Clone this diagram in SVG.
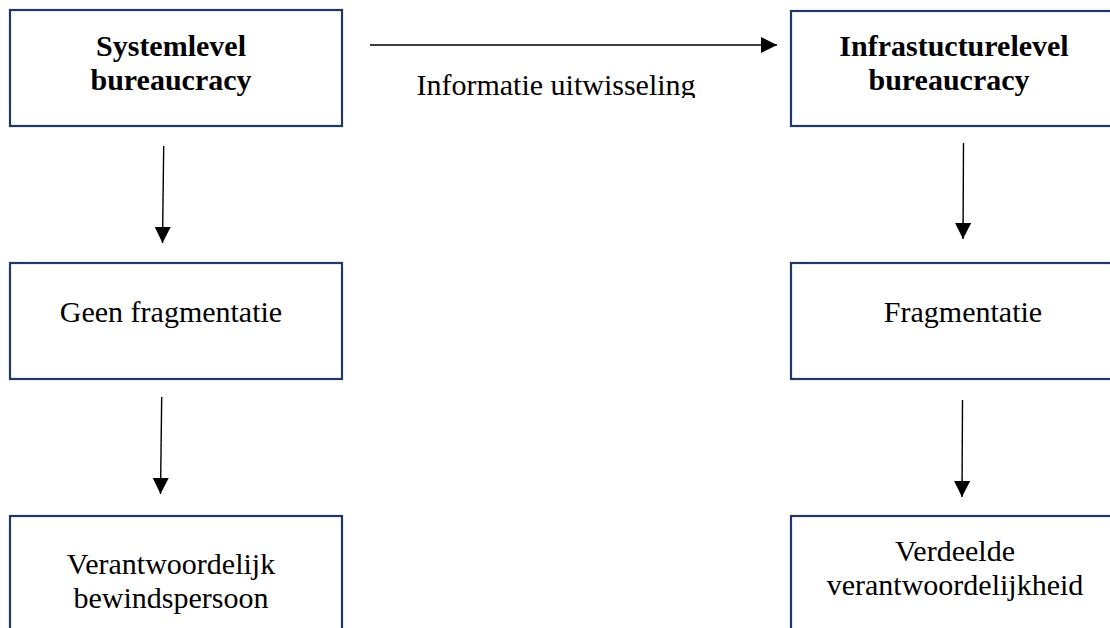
<svg xmlns="http://www.w3.org/2000/svg" width="1110" height="628" viewBox="0 0 1110 628">
<style>
.box{fill:#fff;stroke:#1f3864;stroke-width:2.2}
.t{font-family:"Liberation Serif","Times New Roman",serif;font-size:30px;fill:#000;text-anchor:middle}
.b{font-weight:bold}
.c{stroke:#000;stroke-width:1.4;fill:none}
</style>
<defs>
<marker id="ah" markerUnits="userSpaceOnUse" markerWidth="18" markerHeight="18" refX="16" refY="8" orient="auto">
<path d="M0,0 L16,8 L0,16 Z" fill="#000"/>
</marker>
<clipPath id="lblclip"><rect x="0" y="0" width="1110" height="98"/></clipPath>
</defs>
<rect width="1110" height="628" fill="#fff"/>
<g id="n1"><rect class="box" x="10" y="10" width="332" height="116"/>
<text class="t b" x="171" y="56">Systemlevel</text>
<text class="t b" x="171" y="90">bureaucracy</text></g>
<g id="n2"><rect class="box" x="791" y="11" width="340" height="115"/>
<text class="t b" x="954" y="56">Infrastucturelevel</text>
<text class="t b" x="949" y="90">bureaucracy</text></g>
<g id="n3"><rect class="box" x="10" y="263" width="332" height="116"/>
<text class="t" x="171" y="322">Geen fragmentatie</text></g>
<g id="n4"><rect class="box" x="791" y="263" width="340" height="116"/>
<text class="t" x="963" y="322">Fragmentatie</text></g>
<g id="n5"><rect class="box" x="10" y="516" width="332" height="130"/>
<text class="t" x="171" y="574">Verantwoordelijk</text>
<text class="t" x="171" y="608">bewindspersoon</text></g>
<g id="n6"><rect class="box" x="791" y="516" width="340" height="130"/>
<text class="t" x="955" y="561">Verdeelde</text>
<text class="t" x="955" y="595">verantwoordelijkheid</text></g>
<g id="connectors">
<line class="c" x1="370" y1="45" x2="777" y2="45" marker-end="url(#ah)"/>
<text class="t" x="556" y="95" clip-path="url(#lblclip)">Informatie uitwisseling</text>
<line class="c" x1="163.7" y1="146" x2="162.5" y2="243" marker-end="url(#ah)"/>
<line class="c" x1="963.5" y1="143" x2="963" y2="239" marker-end="url(#ah)"/>
<line class="c" x1="161.7" y1="397" x2="160.5" y2="494" marker-end="url(#ah)"/>
<line class="c" x1="962.5" y1="400" x2="962" y2="497" marker-end="url(#ah)"/>
</g>
</svg>
